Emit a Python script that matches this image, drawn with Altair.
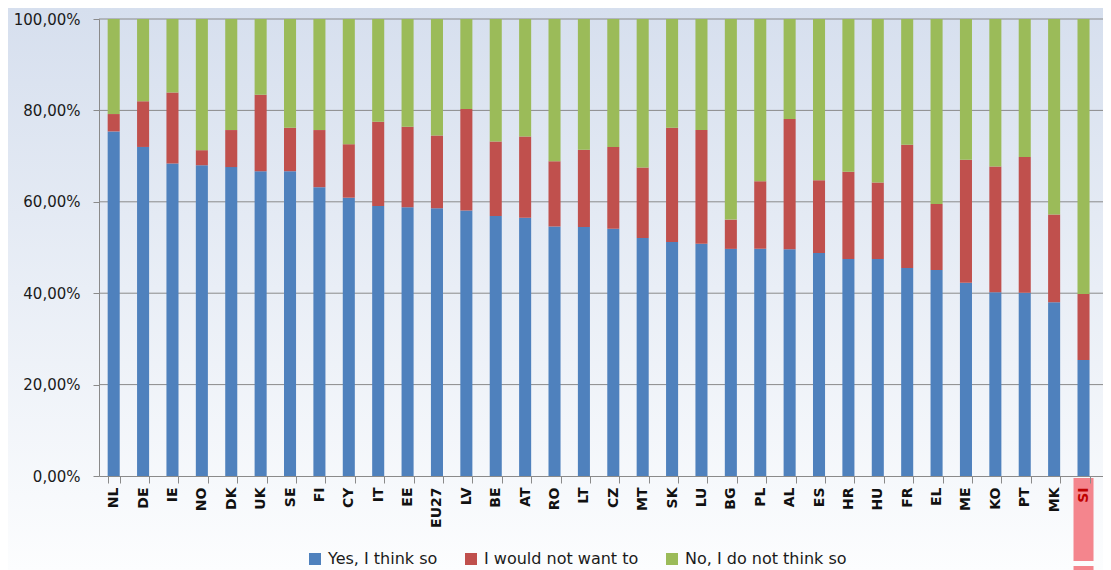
import altair as alt
import pandas as pd

countries = ["NL", "DE", "IE", "NO", "DK", "UK", "SE", "FI", "CY", "IT", "EE", "EU27",
             "LV", "BE", "AT", "RO", "LT", "CZ", "MT", "SK", "LU", "BG", "PL", "AL",
             "ES", "HR", "HU", "FR", "EL", "ME", "KO", "PT", "MK", "SI", "TR"]
yes = [75.4, 72.0, 68.4, 68.0, 67.6, 66.7, 66.7, 63.2, 60.9, 59.1, 58.8, 58.6,
       58.1, 56.9, 56.5, 54.6, 54.5, 54.1, 52.1, 51.2, 50.8, 49.7, 49.7, 49.6,
       48.8, 47.5, 47.5, 45.5, 45.1, 42.3, 40.2, 40.1, 38.0, 25.4, 22.5]
would_not = [3.8, 10.0, 15.5, 3.3, 8.1, 16.7, 9.5, 12.5, 11.7, 18.4, 17.6, 15.9,
             22.2, 16.3, 17.8, 14.3, 16.9, 17.9, 15.4, 25.0, 24.9, 6.4, 14.8, 28.5,
             15.9, 19.1, 16.7, 27.0, 14.4, 26.9, 27.5, 29.7, 19.2, 14.4, 23.9]
no = [20.8, 18.0, 16.1, 28.7, 24.3, 16.6, 23.8, 24.3, 27.4, 22.5, 23.6, 25.5,
      19.7, 26.8, 25.7, 31.1, 28.6, 28.0, 32.5, 23.8, 24.3, 43.9, 35.5, 21.9,
      35.3, 33.4, 35.8, 27.5, 40.5, 30.8, 32.3, 30.2, 42.8, 60.2, 53.6]
series = ["Yes, I think so", "I would not want to", "No, I do not think so"]
colors = ["#4f81bd", "#c0504d", "#9bbb59"]
y_ticks = [0, 20, 40, 60, 80, 100]
grid_values = [20, 40, 60, 80, 100]
highlight = ["SI"]

rows = []
for i, c in enumerate(countries):
    for k, vals in enumerate([yes, would_not, no]):
        rows.append({"country": c, "series": series[k], "order": k, "value": vals[i]})
df = pd.DataFrame(rows)

W, H = 1004, 457
FONT = "DejaVu Sans"
GRAY = "#8a8a8a"

xscale = alt.Scale(domain=countries, range=[0, 1028.6], paddingInner=0.59, paddingOuter=0.295)
yscale = alt.Scale(domain=[0, 100], nice=False)

xaxis = alt.Axis(title=None, labelAngle=-90, tickBand="extent", ticks=True,
                 tickSize=7, labelPadding=4, domainColor=GRAY, tickColor=GRAY,
                 labelFont=FONT, labelFontSize=14, labelFontWeight="bold",
                 labelColor={"condition": {"test": "datum.value === 'SI'", "value": "#c00000"},
                             "value": "#111111"},
                 grid=False, zindex=1)
yaxis = alt.Axis(title=None, values=y_ticks,
                 labelExpr="replace(format(datum.value, '.2f'), '.', ',') + '%'",
                 grid=False, tickSize=6, labelPadding=13, domainColor=GRAY,
                 tickColor=GRAY, labelFont=FONT, labelFontSize=15,
                 labelColor="#1a1a1a", zindex=1)

bg = alt.Chart(alt.Data(values=[{"a": 1}])).mark_rect(
    color=alt.LinearGradient(
        gradient="linear",
        stops=[alt.GradientStop(color="#d6dfee", offset=0),
               alt.GradientStop(color="#fcfdfe", offset=1)],
        x1=0, x2=0, y1=0, y2=1),
).encode(x=alt.value(-91), x2=alt.value(W), y=alt.value(-11), y2=alt.value(551))

grid = alt.Chart(pd.DataFrame({"value": grid_values})).mark_rule(
    color=GRAY, strokeWidth=1
).encode(y=alt.Y("value:Q", scale=yscale, axis=yaxis))

bars = alt.Chart(df).mark_bar(clip=True).encode(
    x=alt.X("country:N", sort=countries, scale=xscale, axis=xaxis),
    y=alt.Y("value:Q", stack="zero", scale=yscale, axis=yaxis),
    color=alt.Color("series:N", scale=alt.Scale(domain=series, range=colors),
                    legend=alt.Legend(title=None, orient="none", legendX=208, legendY=532,
                                      direction="horizontal", symbolType="square",
                                      symbolSize=144, symbolStrokeWidth=0,
                                      labelFont=FONT, labelFontSize=16, labelColor="#1a1a1a",
                                      labelLimit=0, columnPadding=25, labelOffset=5)),
    order=alt.Order("order:Q"),
)

hl1 = alt.Chart(pd.DataFrame({"country": highlight})).mark_bar(
    color="#f4858d", size=20
).encode(x=alt.X("country:N", sort=countries, scale=xscale, axis=xaxis),
         y=alt.value(459), y2=alt.value(542))

hl2 = alt.Chart(pd.DataFrame({"country": highlight})).mark_bar(
    color="#f4858d", size=20
).encode(x=alt.X("country:N", sort=countries, scale=xscale, axis=xaxis),
         y=alt.value(547), y2=alt.value(560))

chart = alt.layer(bg, grid, bars, hl1, hl2).properties(
    width=W, height=H,
    padding={"left": 91, "top": 11, "right": 0, "bottom": 94},
    autosize=alt.AutoSizeParams(type="none"),
).configure_view(stroke=None)

chart.save("out.html", embed_options={"renderer": "svg", "actions": False})
